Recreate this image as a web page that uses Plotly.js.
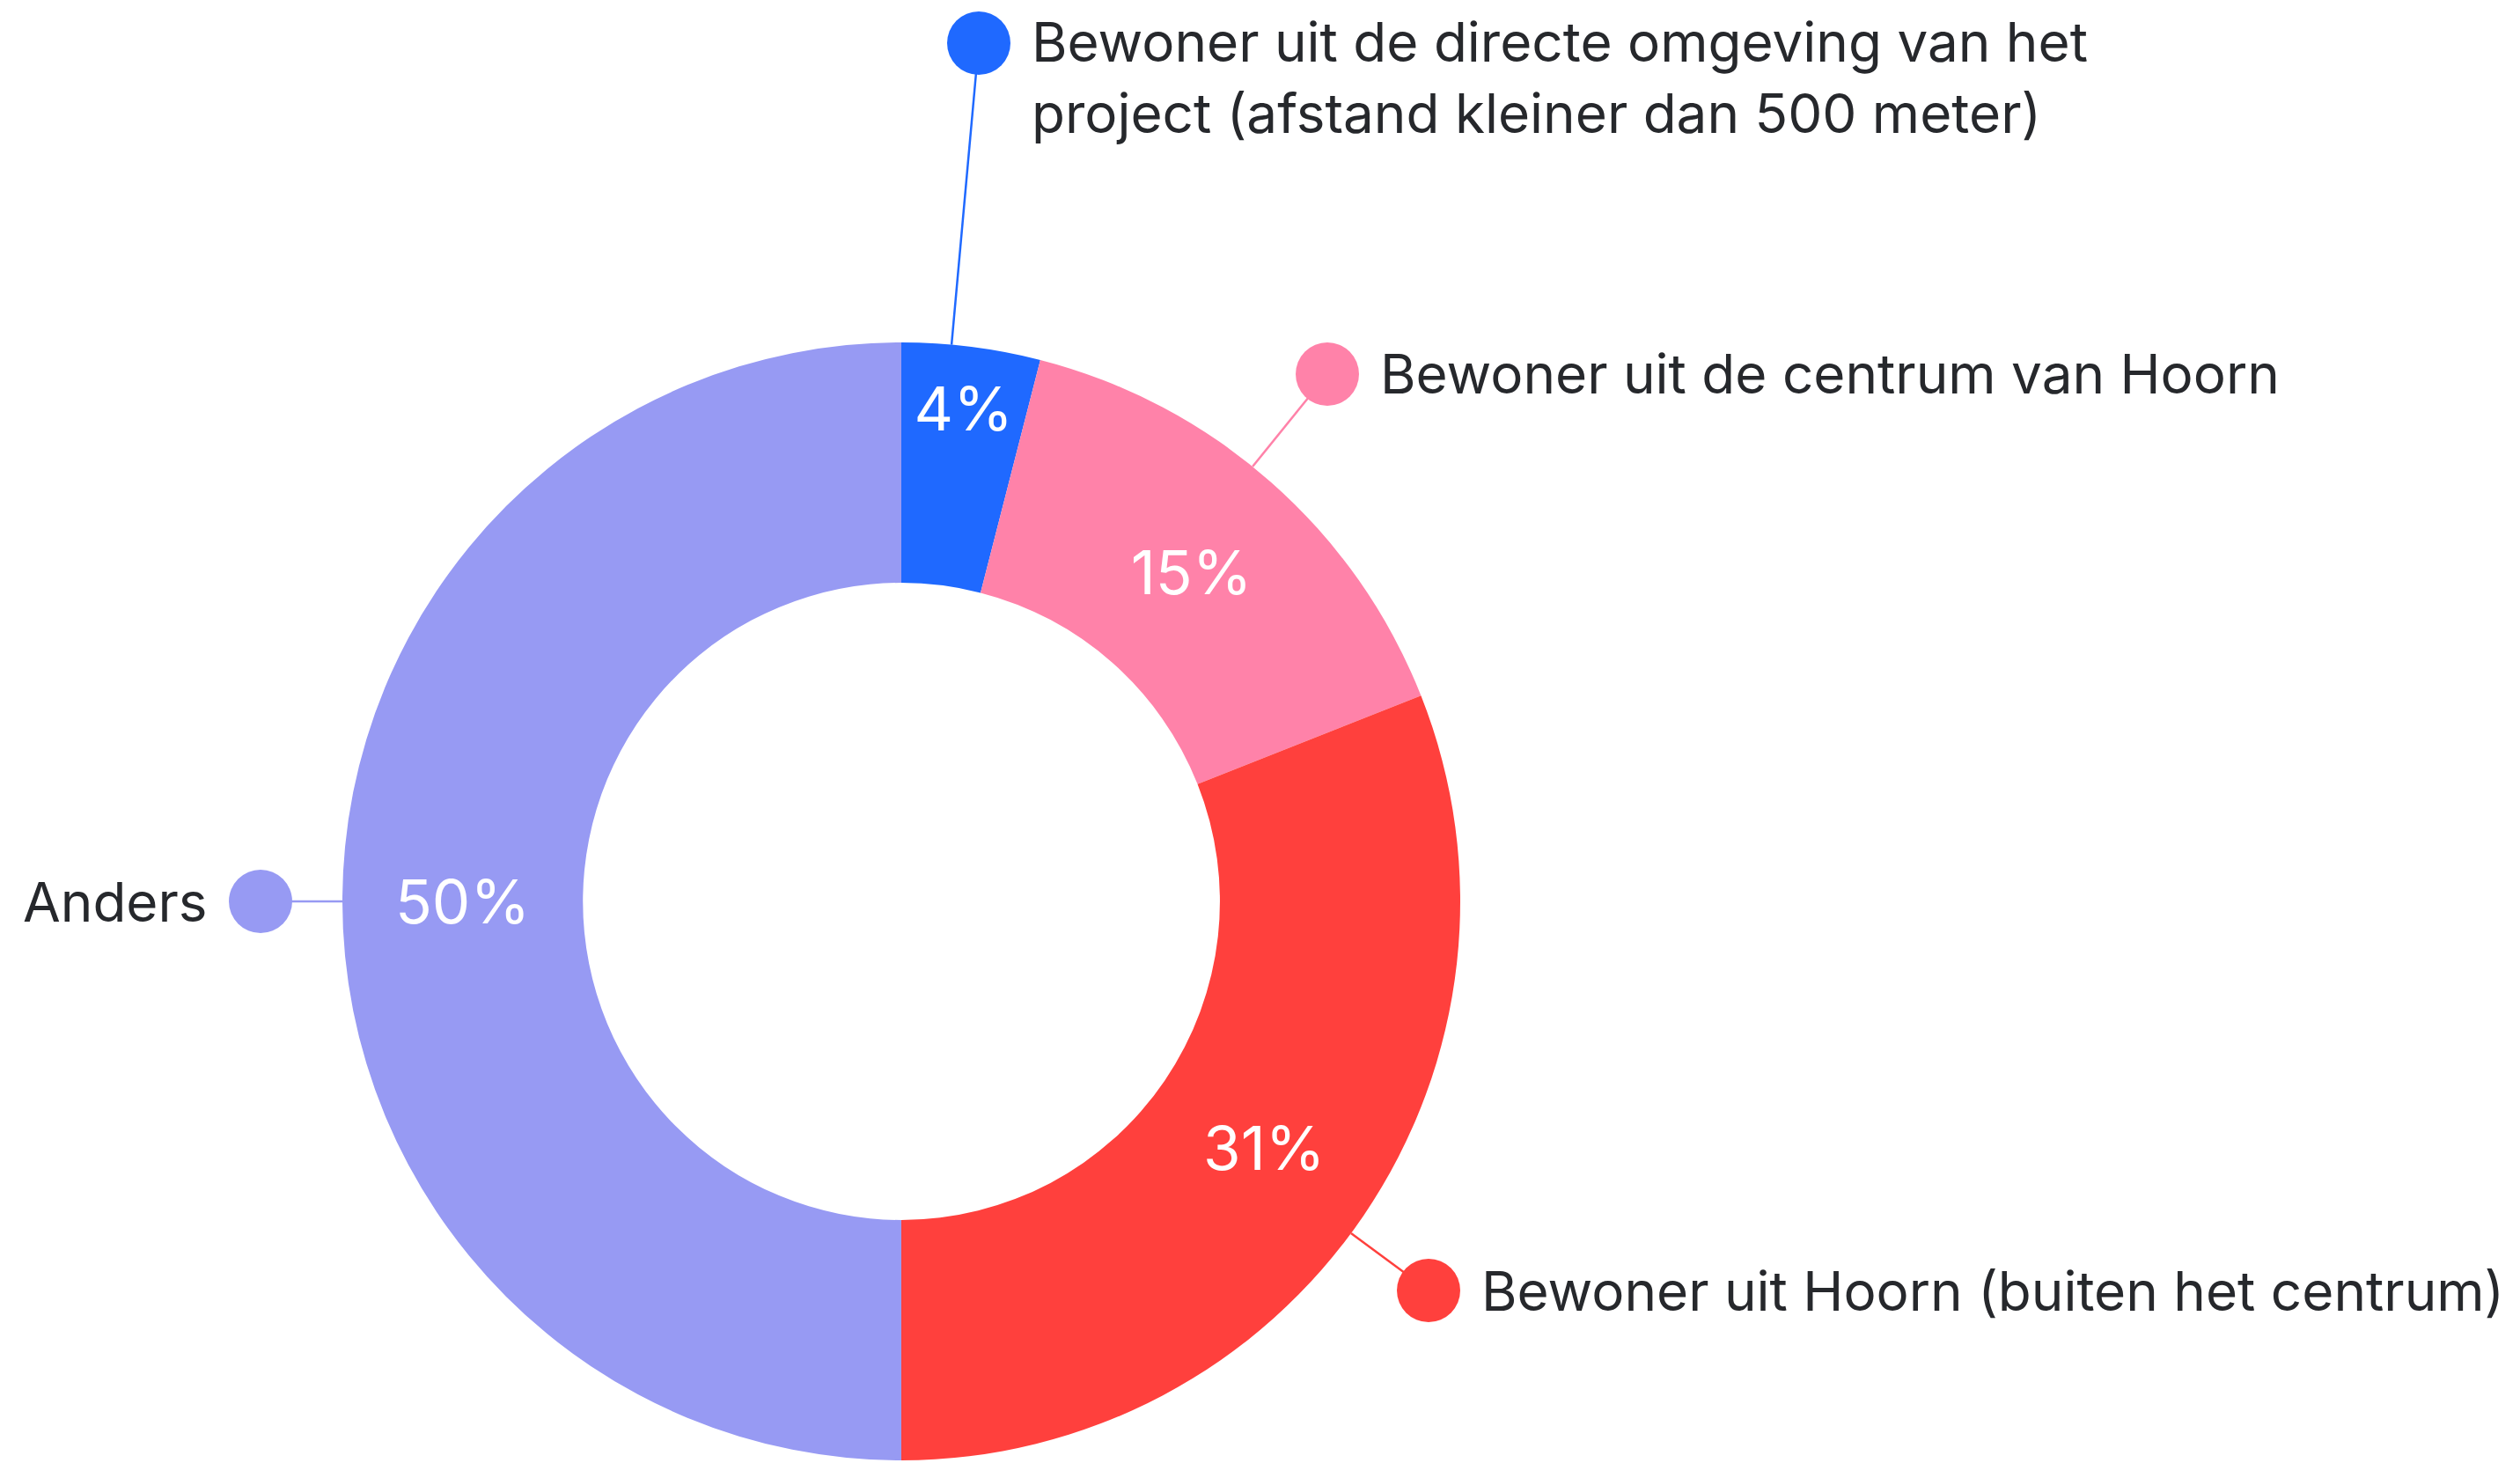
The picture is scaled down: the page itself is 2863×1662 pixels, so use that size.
<!DOCTYPE html>
<html>
<head>
<meta charset="utf-8">
<script src="https://cdn.plot.ly/plotly-3.0.1.min.js"></script>
<style>html,body{margin:0;padding:0;background:#fff;}#chart{width:2863px;height:1662px;}</style>
</head>
<body>
<div id="chart"></div>
<script>
// ---- data ----
const categories = [
  "Bewoner uit de directe omgeving van het project (afstand kleiner dan 500 meter)",
  "Bewoner uit de centrum van Hoorn",
  "Bewoner uit Hoorn (buiten het centrum)",
  "Anders"
];
const labelTexts = [
  "Bewoner uit de directe omgeving van het<br>project (afstand kleiner dan 500 meter)",
  "Bewoner uit de centrum van Hoorn",
  "Bewoner uit Hoorn (buiten het centrum)",
  "Anders"
];
const values = [4, 15, 31, 50];
const colors = ["#1F69FF", "#FF82A9", "#FF403D", "#979AF3"];

// ---- layout geometry (pixels) ----
const W = 2863, H = 1662;
const cx = 1024, cy = 1024, R = 635;
const dots = [
  {x: 1112, y: 49,  side: "right", ty: 88},
  {x: 1508, y: 425, side: "right", ty: 425},
  {x: 1623, y: 1466, side: "right", ty: 1466},
  {x: 296,  y: 1024, side: "left", ty: 1024}
];
const dotR = 36, gap = 58;
const FONT = "Inter, 'Open Sans', sans-serif";

const px = x => x / W;
const py = y => 1 - y / H;

const shapes = [];
const annotations = [];
dots.forEach((d, i) => {
  const vx = d.x - cx, vy = d.y - cy;
  const len = Math.sqrt(vx * vx + vy * vy);
  const ex = cx + R * vx / len, ey = cy + R * vy / len;
  shapes.push({type: "line", xref: "paper", yref: "paper", layer: "below",
    x0: px(ex), y0: py(ey), x1: px(d.x), y1: py(d.y),
    line: {color: colors[i], width: 2.5}});
  shapes.push({type: "circle", xref: "paper", yref: "paper", layer: "above",
    x0: px(d.x - dotR), x1: px(d.x + dotR), y0: py(d.y + dotR), y1: py(d.y - dotR),
    fillcolor: colors[i], line: {width: 0}});
  annotations.push({
    xref: "paper", yref: "paper", showarrow: false,
    x: px(d.side === "right" ? d.x + gap : d.x - gap), y: py(d.ty),
    xanchor: d.side === "right" ? "left" : "right", yanchor: "middle", align: "left",
    text: labelTexts[i],
    font: {family: FONT, size: 62, color: "#26282C"}
  });
});

const trace = {
  type: "pie",
  labels: categories,
  values: values,
  sort: false,
  direction: "clockwise",
  rotation: 0,
  hole: 0.57,
  marker: {colors: colors, line: {width: 0}},
  texttemplate: "%{value}%",
  textposition: "inside",
  insidetextorientation: "horizontal",
  textfont: {family: FONT, size: 69, color: "#FFFFFF"},
  hoverinfo: "label+percent",
  showlegend: false,
  domain: {x: [px(cx - R), px(cx + R)], y: [py(cy + R), py(cy - R)]}
};

const layout = {
  width: W, height: H,
  margin: {l: 0, r: 0, t: 0, b: 0},
  paper_bgcolor: "#FFFFFF",
  showlegend: false,
  shapes: shapes,
  annotations: annotations
};

Plotly.newPlot("chart", [trace], layout, {displayModeBar: false, staticPlot: true});
</script>
</body>
</html>
